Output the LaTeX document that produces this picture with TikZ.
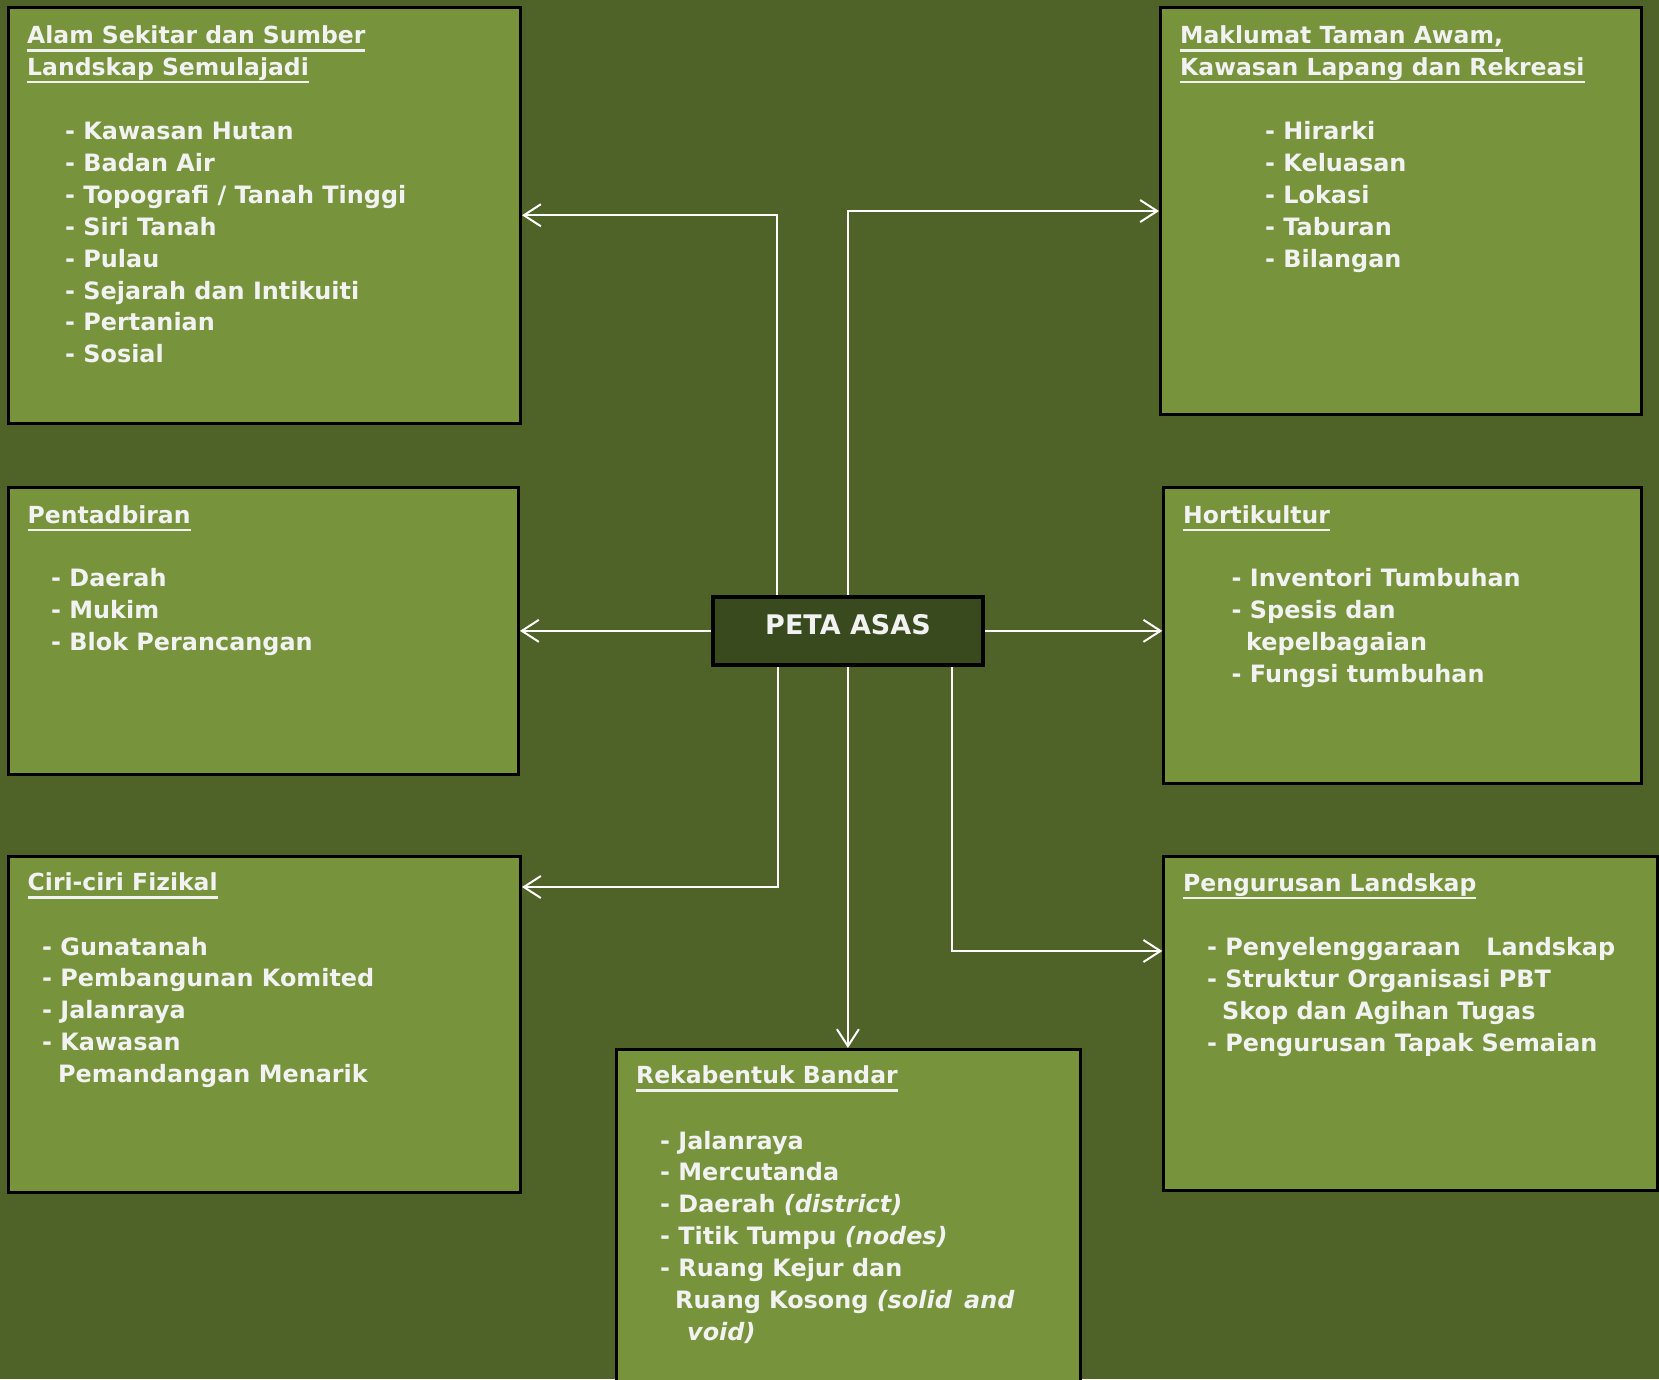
\documentclass[tikz,border=0pt]{standalone}
\usepackage{fontspec}
\setmainfont{DejaVu Sans}
\usetikzlibrary{arrows.meta}
\definecolor{bgc}{HTML}{4F6228}
\definecolor{boxc}{HTML}{77933C}
\definecolor{petac}{HTML}{3A4A1F}
\definecolor{txtc}{HTML}{F2F2F2}
\newcommand{\ulin}[1]{\leavevmode\setbox0\hbox{#1}\rlap{\rule[-8pt]{\wd0}{2.2pt}}\box0}
\newcommand{\lns}[1]{\parbox[t]{560pt}{\raggedright\leavevmode #1}}
\begin{document}
\begin{tikzpicture}[x=1pt,y=-1pt,
  box/.style={draw=black, line width=3pt, fill=boxc, anchor=north west, inner sep=0pt, outer sep=0pt, rectangle},
  ttl/.style={text=txtc, font=\fontsize{23.5pt}{31.8pt}\selectfont\bfseries, anchor=base west, inner sep=0pt},
  txt/.style={text=txtc, font=\fontsize{23.9pt}{31.9pt}\selectfont\bfseries, anchor=base west, inner sep=0pt},
  arr/.style={draw=white, line width=2pt, shorten >=1.5pt, -{Straight Barb[length=17pt,width=22pt]}}]
\useasboundingbox (0,0) rectangle (1659,1379);
\fill[bgc] (0,0) rectangle (1659,1379);
\begin{scope}
\clip (0,0) rectangle (1659,1379);
% boxes (path coordinates)
\node[box, minimum width=512.5pt, minimum height=415.5pt] (alam) at (8,7.5) {};
\node[box, minimum width=480.5pt, minimum height=407.3pt] (mak) at (1160.5,7.4) {};
\node[box, minimum width=510pt, minimum height=287pt] (pent) at (8.5,487.7) {};
\node[box, minimum width=477.2pt, minimum height=295.3pt] (hort) at (1163.8,487.7) {};
\node[box, minimum width=512pt, minimum height=336.4pt] (ciri) at (8.5,856) {};
\node[box, minimum width=493.2pt, minimum height=334pt] (peng) at (1163.8,856) {};
\node[box, minimum width=463.4pt, minimum height=360pt] (reka) at (616.8,1049.5) {};
\node[box, draw=black, line width=4pt, fill=petac, minimum width=270.8pt, minimum height=68.3pt, outer sep=2pt] (peta) at (710.5,594.7) {};
\node[text=txtc, font=\fontsize{27pt}{30pt}\selectfont\bfseries, anchor=base, inner sep=0pt] (petaT) at (848,634) {PETA ASAS};
% connectors
\draw[arr] (peta.north -| 777,0) |- (alam.east);
\draw[arr] (peta.north) |- (mak.west);
\draw[arr] (peta.west) -- (pent.east |- peta.west);
\draw[arr] (peta.east) -- (hort.west |- peta.east);
\draw[arr] (peta.south -| 778,0) |- (ciri.east |- 0,887);
\draw[arr] (peta.south) -- (reka.north -| peta.south);
\draw[arr] (peta.south -| 952,0) |- (peng.west |- 0,951);
% texts
\node[ttl] (alamT) at (27,43.5) {\lns{\ulin{Alam Sekitar dan Sumber}\\\ulin{Landskap Semulajadi}}};
\node[txt] (alamL) at (65,139.5) {\lns{- Kawasan Hutan\\- Badan Air\\- Topografi / Tanah Tinggi\\- Siri Tanah\\- Pulau\\- Sejarah dan Intikuiti\\- Pertanian\\- Sosial}};
\node[ttl] (makT) at (1180,43.5) {\lns{\ulin{Maklumat Taman Awam,}\\\ulin{Kawasan Lapang dan Rekreasi}}};
\node[txt] (makL) at (1265,139.5) {\lns{- Hirarki\\- Keluasan\\- Lokasi\\- Taburan\\- Bilangan}};
\node[ttl] (pentT) at (27.5,523) {\ulin{Pentadbiran}};
\node[txt] (pentL) at (51,586.6) {\lns{- Daerah\\- Mukim\\- Blok Perancangan}};
\node[ttl] (hortT) at (1183,523) {\ulin{Hortikultur}};
\node[txt] (hortL) at (1231.5,586.3) {\lns{- Inventori Tumbuhan\\- Spesis dan\\\hspace*{14.5pt}kepelbagaian\\- Fungsi tumbuhan}};
\node[ttl] (ciriT) at (27.5,890.5) {\ulin{Ciri-ciri Fizikal}};
\node[txt] (ciriL) at (42,955) {\lns{- Gunatanah\\- Pembangunan Komited\\- Jalanraya\\- Kawasan\\\hspace*{16pt}Pemandangan Menarik}};
\node[ttl] (pengT) at (1183,891) {\ulin{Pengurusan Landskap}};
\node[txt] (pengL) at (1207,955.5) {\lns{\hbox to 408pt{- Penyelenggaraan\hfil Landskap}\\- Struktur Organisasi PBT\\\hspace*{15pt}Skop dan Agihan Tugas\\- Pengurusan Tapak Semaian}};
\node[ttl] (rekaT) at (636,1083.5) {\ulin{Rekabentuk Bandar}};
\node[txt] (rekaL) at (660,1149) {\lns{- Jalanraya\\- Mercutanda\\- Daerah \textit{(district)}\\- Titik Tumpu \textit{(nodes)}\\- Ruang Kejur dan\\\hspace*{15pt}Ruang Kosong \textit{(solid\hspace{4pt} and}\\\hspace*{27pt}\textit{void)}}};
\end{scope}
\end{tikzpicture}
\end{document}
